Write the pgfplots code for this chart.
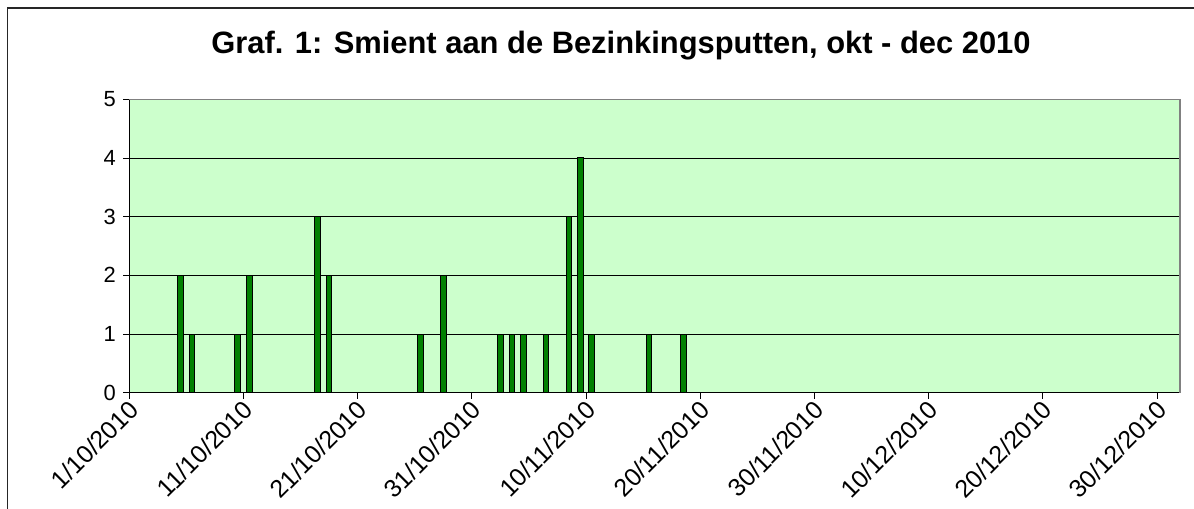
\documentclass[border=0pt]{standalone}
\usepackage{fontspec}
\setmainfont{Liberation Sans}
\usepackage{pgfplots}
\pgfplotsset{compat=1.18}
\definecolor{bgg}{HTML}{CCFFCC}
\definecolor{barg}{HTML}{008000}
\begin{document}
\begin{tikzpicture}
\path[use as bounding box] (-129.3bp,-116.3bp) rectangle (1064.7bp,392.7bp);
\draw[line width=1.5bp, black!85] (-121.8bp,-140bp) -- (-121.8bp,384.7bp) -- (1090bp,384.7bp);
\node[font=\fontsize{31}{36}\bfseries\selectfont] at (491.7bp,346.7bp) {Graf. 1: Smient aan de Bezinkingsputten, okt - dec 2010};
\begin{axis}[
 at={(0bp,0bp)}, anchor=origin,
 scale only axis, width=1050.7bp, height=293.4bp,
 xmin=0, xmax=92, ymin=0, ymax=5,
 axis background/.style={fill=bgg},
 axis x line*=bottom, axis y line*=left,
 axis line style={line width=1bp, black},
 ybar, bar width=0.5, bar shift=0pt,
 xtick={0,10,...,90},
 xticklabels={1/10/2010,11/10/2010,21/10/2010,31/10/2010,10/11/2010,20/11/2010,30/11/2010,10/12/2010,20/12/2010,30/12/2010},
 ytick={0,1,...,5},
 tick align=outside, major tick length=6bp,
 tick style={black, line width=0.8bp},
 ymajorgrids, grid style={black, line width=0.8bp},
 /pgf/number format/assume math mode=true,
 yticklabel style={font=\fontsize{22}{26}\selectfont, xshift=-4bp},
 xticklabel style={font=\fontsize{25}{30}\selectfont, rotate=45, anchor=east, yshift=-8bp, xshift=2bp},
 after end axis/.code={
   \draw[gray, line width=1.2bp] (rel axis cs:0,1) -- (rel axis cs:1,1) -- (rel axis cs:1,0);
 },
]
\addplot[fill=barg, draw=black, line width=1bp] coordinates {
(4.5,2) (5.5,1) (9.5,1) (10.5,2) (16.5,3) (17.5,2) (25.5,1) (27.5,2)
(32.5,1) (33.5,1) (34.5,1) (36.5,1) (38.5,3) (39.5,4) (40.5,1) (45.5,1) (48.5,1)
};
\end{axis}
\end{tikzpicture}
\end{document}
